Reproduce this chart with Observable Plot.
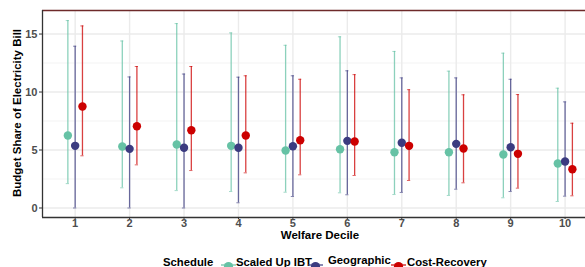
<!DOCTYPE html>
<html><head><meta charset="utf-8">
<script src="https://cdn.jsdelivr.net/npm/d3@7"></script>
<script src="https://cdn.jsdelivr.net/npm/@observablehq/plot@0.6"></script>
<style>
body{margin:0;background:#fff;overflow:hidden;width:585px;height:267px;font-family:"Liberation Sans",Arial,sans-serif;position:relative;}
.lt{position:absolute;top:256px;font-size:11.3px;font-weight:bold;color:#000;white-space:nowrap;line-height:13px;}
.lk{position:absolute;top:259px;}
</style></head>
<body><div id="chart"></div><div id="legend"></div>
<script>
const deciles = [1,2,3,4,5,6,7,8,9,10];
const schedules = ["Scaled Up IBT","Geographic","Cost-Recovery"];
const colors = ["#66c2a5","#3b3b80","#cc0000"];
const ibtMean = [6.25,5.3,5.47,5.36,4.96,5.07,4.81,4.81,4.61,3.84];
const ibtLo   = [2.1,1.74,1.5,1.42,1.36,1.31,1.16,1.08,0.88,0.56];
const ibtHi   = [16.16,14.4,15.9,15.1,14.03,14.76,13.5,11.8,13.35,10.33];
const geoMean = [5.36,5.1,5.19,5.19,5.33,5.79,5.62,5.53,5.24,4.01];
const geoLo   = [0,0,0,0.45,0.99,1.14,1.34,1.62,1.42,1.02];
const geoHi   = [13.95,11.3,11.55,11.28,11.4,11.83,11.22,11.22,11.1,9.15];
const crMean  = [8.75,7.05,6.7,6.25,5.84,5.73,5.36,5.13,4.67,3.34];
const crLo    = [4.5,3.72,3.23,3.03,2.86,2.8,2.37,2.17,1.71,1.05];
const crHi    = [15.7,12.2,12.2,11.4,11.1,11.5,10.2,9.76,9.78,7.31];
const yTicks = [0,5,10,15];
const yMinor = [2.5,7.5,12.5];

const series = [[ibtMean,ibtLo,ibtHi],[geoMean,geoLo,geoHi],[crMean,crLo,crHi]];
const dxs = [-7.3,0,7.3];
const marks = [];
marks.push(Plot.ruleY(yMinor,{stroke:"#f0f0f0",strokeWidth:0.8}));
marks.push(Plot.ruleY(yTicks,{stroke:"#ebebeb",strokeWidth:1.4}));
marks.push(Plot.ruleX(deciles,{stroke:"#ebebeb",strokeWidth:1.4}));
series.forEach(([m,lo,hi],i)=>{
  const data = deciles.map((d,j)=>({decile:d,mean:m[j],lo:lo[j],hi:hi[j],schedule:schedules[i]}));
  const c = colors[i];
  marks.push(Plot.ruleX(data,{x:"decile",y1:"lo",y2:"hi",stroke:c,strokeOpacity:0.75,strokeWidth:1.3,dx:dxs[i]}));
  marks.push(Plot.ruleY(data,{y:"lo",x1:d=>d.decile-0.03,x2:d=>d.decile+0.03,stroke:c,strokeOpacity:0.6,strokeWidth:1,dx:dxs[i]}));
  marks.push(Plot.ruleY(data,{y:"hi",x1:d=>d.decile-0.03,x2:d=>d.decile+0.03,stroke:c,strokeOpacity:0.6,strokeWidth:1,dx:dxs[i]}));
  marks.push(Plot.dot(data,{x:"decile",y:"mean",fill:c,r:4.2,dx:dxs[i]}));
});
marks.push(Plot.ruleY([17.03],{stroke:"#6e2a2a",strokeWidth:1.3}));
marks.push(Plot.ruleY([-0.82],{stroke:"#333",strokeWidth:1.3}));
marks.push(Plot.ruleX([0.4],{stroke:"#333",strokeWidth:1.3}));
marks.push(Plot.axisY(yTicks,{tickSize:3,tickPadding:2,stroke:"#333",fill:"#4d4d4d",fontSize:11,fontWeight:"bold",label:null}));
marks.push(Plot.axisX(deciles,{tickSize:2,tickPadding:0,stroke:"#333",fill:"#4d4d4d",fontSize:11,fontWeight:"bold",label:null}));

const plot = Plot.plot({
  width:585,height:245,marginLeft:42,marginRight:0,marginTop:10,marginBottom:28,
  style:{fontFamily:"Liberation Sans, Arial, sans-serif",background:"#fff",overflow:"visible"},
  x:{domain:[0.4,10.375]},
  y:{domain:[-0.82,17.03]},
  marks
});
document.getElementById("chart").appendChild(plot);
const svg = d3.select(plot);
svg.append("text").attr("x",320).attr("y",239).attr("text-anchor","middle")
  .attr("font-size",11.5).attr("font-weight","bold").attr("fill","#000").text("Welfare Decile");
svg.append("text").attr("transform","translate(21,113) rotate(-90)").attr("text-anchor","middle")
  .attr("font-size",11.5).attr("font-weight","bold").attr("fill","#000").text("Budget Share of Electricity Bill");
// legend
const lg = document.getElementById("legend");
const textX = [236,328,407], keyX = [221,308,391], textDy = [0,-2,0];
let html = '<span class="lt" style="left:163px">Schedule</span>';
schedules.forEach((s,i)=>{
  html += `<svg class="lk" style="left:${keyX[i]}px" width="15" height="12"><line x1="0" x2="15" y1="6" y2="6" stroke="${colors[i]}" stroke-width="1.5" opacity="0.8"/><circle cx="7.5" cy="7.5" r="4.6" fill="${colors[i]}"/></svg>`;
  html += `<span class="lt" style="left:${textX[i]}px;top:${256+textDy[i]}px">${s}</span>`;
});
lg.innerHTML = html;
</script></body></html>
